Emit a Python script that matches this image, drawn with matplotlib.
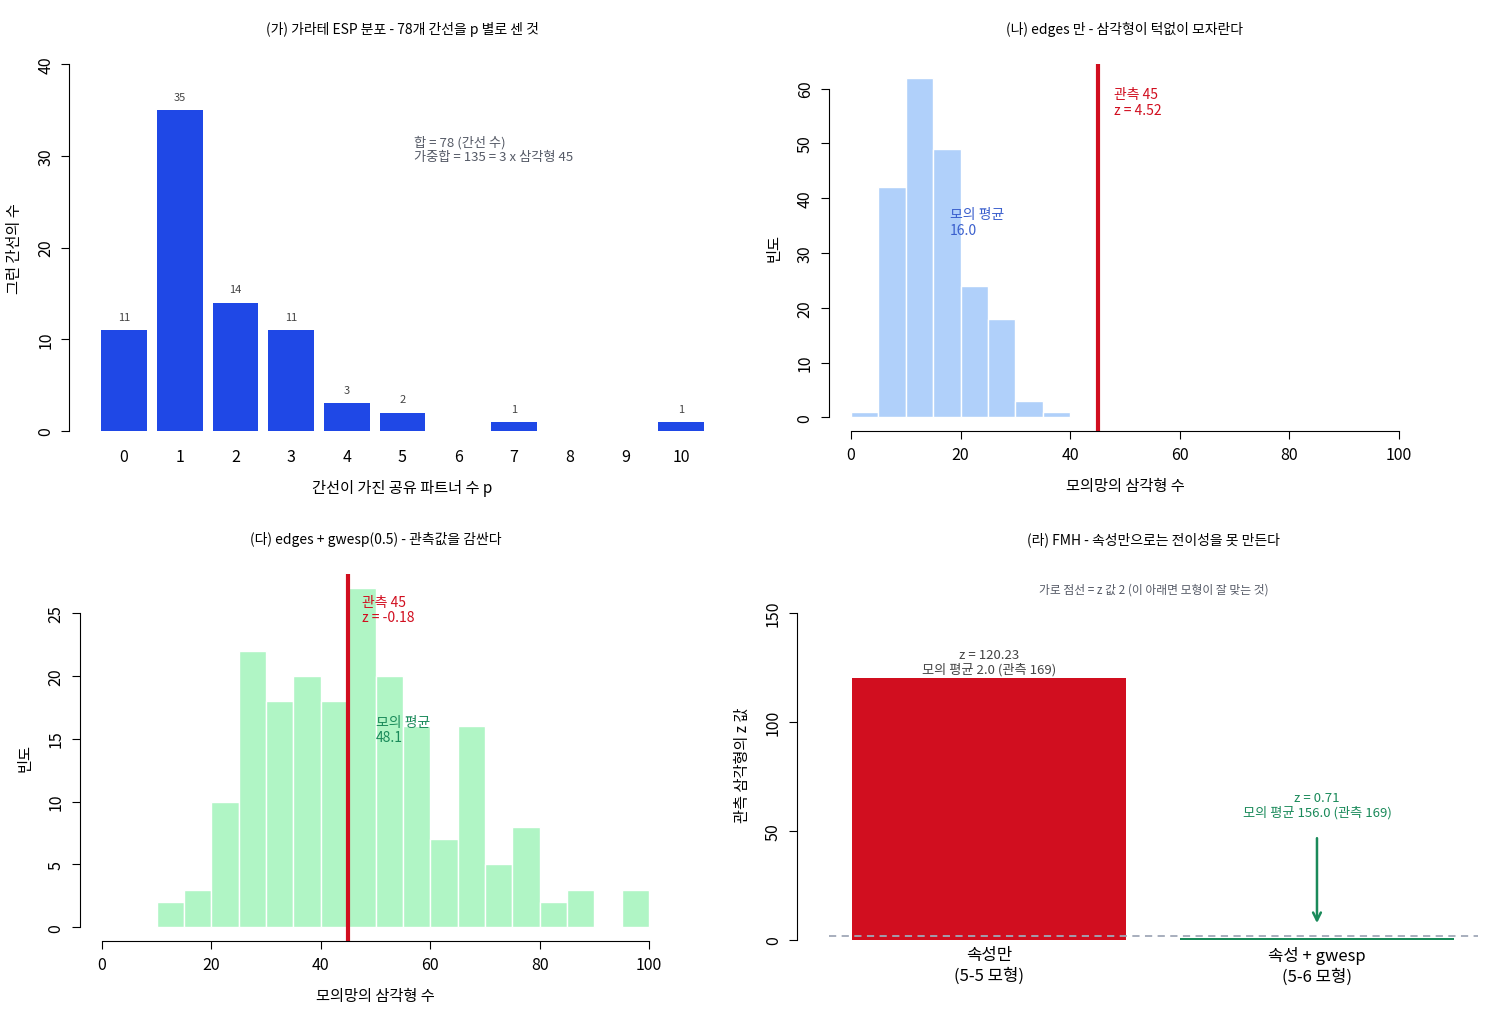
import matplotlib
matplotlib.use("Agg")
import matplotlib.pyplot as plt
import numpy as np

plt.rcParams['font.family'] = ['Noto Sans CJK KR', 'DejaVu Sans']

# Panel 1 data
p_vals = list(range(11))
p_counts = [11, 35, 14, 11, 3, 2, 0, 1, 0, 0, 1]
# Panel 2 data (edges only)
h2_edges = [0, 5, 10, 15, 20, 25, 30, 35, 40]
h2_counts = [1, 42, 62, 49, 24, 18, 3, 1]
# Panel 3 data (edges + gwesp)
h3_edges = list(range(10, 105, 5))
h3_counts = [2, 3, 10, 22, 18, 20, 18, 27, 20, 16, 7, 16, 5, 8, 2, 3, 0, 3]
# Panel 4 data
models = ["속성만\n(5-5 모형)", "속성 + gwesp\n(5-6 모형)"]
z_vals = [120.23, 0.71]
sim_means = [2.0, 156.0]
observed = 169

W, H = 1500, 1020
fig = plt.figure(figsize=(15, 10.2), dpi=100)

def ax_px(l, r, t, b):
    return fig.add_axes([l / W, 1 - b / H, (r - l) / W, (b - t) / H])

def rstyle(ax, xb=None, yb=None, hide_x=False):
    for s in ['top', 'right']:
        ax.spines[s].set_visible(False)
    if hide_x:
        ax.spines['bottom'].set_visible(False)
    elif xb:
        ax.spines['bottom'].set_bounds(*xb)
    if yb:
        ax.spines['left'].set_bounds(*yb)
    ax.tick_params(axis='both', labelsize=11.5, length=6, direction='out', pad=5)
    for lab in ax.get_yticklabels():
        lab.set_rotation(90)
        lab.set_va('center')

RED = '#d10e1f'
GREY = '#555a66'

# ---- Panel 1
ax1 = ax_px(100, 705, 65, 432)
ax1.bar(p_vals, p_counts, width=0.82, color='#1f48e6')
ax1.set_xlim(-0.43, 10.43)
ax1.set_ylim(0, 40)
for x, c in zip(p_vals, p_counts):
    if c > 0:
        ax1.text(x, c + 0.9, str(c), ha='center', va='bottom', fontsize=8, color='#444444')
ax1.spines['left'].set_position(('outward', 22))
ax1.set_xticks(p_vals)
ax1.set_yticks([0, 10, 20, 30, 40])
rstyle(ax1, yb=(0, 40), hide_x=True)
ax1.tick_params(axis='x', length=0, pad=12)
ax1.set_xlabel("간선이 가진 공유 파트너 수 p", fontsize=11, labelpad=10)
ax1.set_ylabel("그런 간선의 수", fontsize=11, labelpad=10)
ax1.set_title("(가) 가라테 ESP 분포 - 78개 간선을 p 별로 센 것", fontsize=10, pad=22)
ax1.text(5.2, 32.3, "합 = 78 (간선 수)\n가중합 = 135 = 3 x 삼각형 45", fontsize=9.5,
         color=GREY, va='top', ha='left', linespacing=1.2)

# ---- Panel 2
ax2 = ax_px(829, 1421, 65, 432)
ax2.bar(h2_edges[:-1], h2_counts, width=5, align='edge', color='#b0d0fa', edgecolor='white', linewidth=1)
ax2.set_xlim(-4, 104)
ax2.set_ylim(-2.48, 64.48)
ax2.axvline(45, color=RED, lw=3)
ax2.text(48, 60.2, "관측 45\nz = 4.52", color=RED, fontsize=10, va='top', linespacing=1.1)
ax2.text(18, 38.3, "모의 평균\n16.0", color='#3a5fcd', fontsize=10, va='top', linespacing=1.1)
ax2.set_xticks([0, 20, 40, 60, 80, 100])
ax2.set_yticks([0, 10, 20, 30, 40, 50, 60])
rstyle(ax2, xb=(0, 100), yb=(0, 60))
ax2.set_xlabel("모의망의 삼각형 수", fontsize=11, labelpad=10)
ax2.set_ylabel("빈도", fontsize=11, labelpad=10)
ax2.set_title("(나) edges 만 - 삼각형이 턱없이 모자란다", fontsize=10, pad=22)

# ---- Panel 3
ax3 = ax_px(80, 671, 575, 942)
ax3.bar(h3_edges[:-1], h3_counts, width=5, align='edge', color='#b0f5c5', edgecolor='white', linewidth=1)
ax3.set_xlim(-4, 104)
ax3.set_ylim(-1.08, 28.08)
ax3.axvline(45, color=RED, lw=3)
ax3.text(47.5, 26.4, "관측 45\nz = -0.18", color=RED, fontsize=10, va='top', linespacing=1.1)
ax3.text(50.1, 16.9, "모의 평균\n48.1", color='#1a8a5a', fontsize=10, va='top', linespacing=1.1)
ax3.set_xticks([0, 20, 40, 60, 80, 100])
ax3.set_yticks([0, 5, 10, 15, 20, 25])
rstyle(ax3, xb=(0, 100), yb=(0, 25))
ax3.set_xlabel("모의망의 삼각형 수", fontsize=11, labelpad=10)
ax3.set_ylabel("빈도", fontsize=11, labelpad=10)
ax3.set_title("(다) edges + gwesp(0.5) - 관측값을 감싼다", fontsize=10, pad=22)

# ---- Panel 4
ax4 = ax_px(829, 1478, 575, 955)
xs = [0, 1]
ax4.bar(xs, z_vals, width=0.835, color=[RED, '#1a8a5a'])
ax4.set_xlim(-0.488, 1.491)
ax4.set_ylim(-6.4, 167.9)
ax4.axhline(2, color='#a0a8b8', lw=1.3, ls=(0, (4, 3)))
ax4.text(0, z_vals[0] + 1, f"z = {z_vals[0]:.2f}\n모의 평균 {sim_means[0]:.1f} (관측 {observed})",
         ha='center', va='bottom', fontsize=9.5, color='#444444', linespacing=1.1)
ax4.text(1, 62, f"z = {z_vals[1]:.2f}\n모의 평균 {sim_means[1]:.1f} (관측 {observed})",
         ha='center', va='center', fontsize=9.5, color='#1a8a5a', linespacing=1.1)
ax4.annotate("", xy=(1, 6.5), xytext=(1, 48),
             arrowprops=dict(arrowstyle='->', color='#1a8a5a', lw=1.8, mutation_scale=14))
ax4.text(0.5, 1.0 - 15 / 380, "가로 점선 = z 값 2 (이 아래면 모형이 잘 맞는 것)", transform=ax4.transAxes,
         ha='center', va='center', fontsize=8.5, color=GREY)
ax4.spines['left'].set_position(('outward', 23))
ax4.set_xticks(xs)
ax4.set_xticklabels(models, fontsize=12, linespacing=1.3)
ax4.set_yticks([0, 50, 100, 150])
rstyle(ax4, yb=(0, 150), hide_x=True)
ax4.tick_params(axis='x', length=0, pad=-6, labelsize=12)
ax4.set_ylabel("관측 삼각형의 z 값", fontsize=11, labelpad=10)
ax4.set_title("(라) FMH - 속성만으로는 전이성을 못 만든다", fontsize=10, pad=22)

fig.savefig("out.png", dpi=100)
